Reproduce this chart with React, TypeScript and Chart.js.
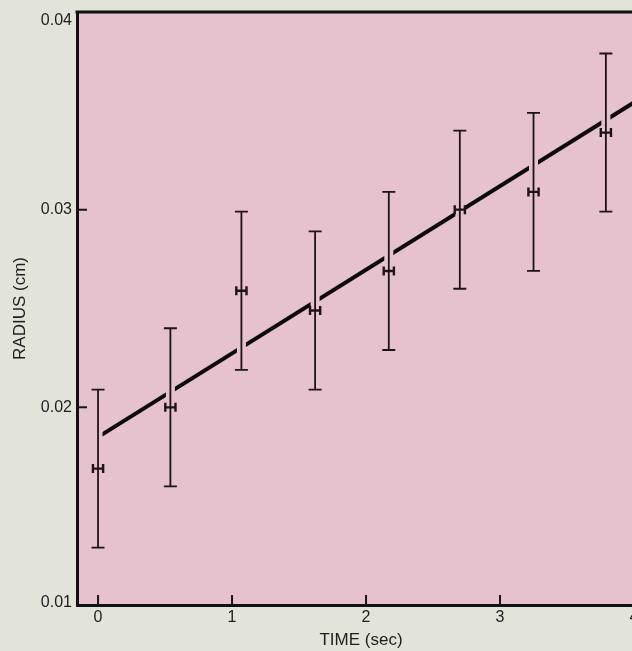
import React, { useEffect, useRef } from "react";
import { Chart, registerables } from "chart.js";

Chart.register(...registerables);

// ---- data ----
const times = [0.0, 0.54, 1.07, 1.62, 2.17, 2.7, 3.25, 3.79];
const radii = [0.0169, 0.02, 0.0259, 0.0249, 0.0269, 0.03, 0.0309, 0.0339];
const radiusErr = [0.004, 0.004, 0.004, 0.004, 0.004, 0.004, 0.004, 0.004];
const timeErr = [0.038, 0.038, 0.038, 0.038, 0.038, 0.038, 0.038, 0.038];
const fitTimes = [0.02, 4.08];
const fitRadii = [0.01858, 0.03576];
const xTicks = [0, 1, 2, 3, 4];
const yTicks = [0.01, 0.02, 0.03, 0.04];
const xTitle = "TIME (sec)";
const yTitle = "RADIUS (cm)";

const PINK = "#e6c1ce";
const PAGE = "#e2e4da";
const INK = "#1c1416";
const TEXT = "#1e1e1e";
const FONT = "'Liberation Sans', Arial, Helvetica, sans-serif";

const framePlugin = {
  id: "frame",
  beforeDraw(chart: any) {
    const { ctx, chartArea: a } = chart;
    ctx.save();
    ctx.fillStyle = PINK;
    ctx.fillRect(a.left, a.top, a.right - a.left, a.bottom - a.top);
    ctx.restore();
  },
  afterDraw(chart: any) {
    const { ctx, chartArea: a, scales } = chart;
    const ys = scales.y;
    ctx.save();
    ctx.fillStyle = TEXT;
    ctx.font = `16px ${FONT}`;
    ctx.textAlign = "right";
    ctx.textBaseline = "middle";
    for (const v of yTicks) {
      let py = ys.getPixelForValue(v);
      py = Math.max(a.top + 9, Math.min(a.bottom - 2, py));
      ctx.fillText(v.toFixed(2), a.left - 5, py);
    }
    ctx.restore();
  },
  afterDatasetsDraw(chart: any) {
    const { ctx, chartArea: a, scales } = chart;
    const xs = scales.x;
    const ys = scales.y;
    ctx.save();
    // error bars
    for (let i = 0; i < times.length; i++) {
      const px = xs.getPixelForValue(times[i]);
      const py = ys.getPixelForValue(radii[i]);
      const pTop = ys.getPixelForValue(radii[i] + radiusErr[i]);
      const pBot = ys.getPixelForValue(radii[i] - radiusErr[i]);
      const pL = xs.getPixelForValue(times[i] - timeErr[i]);
      const pR = xs.getPixelForValue(times[i] + timeErr[i]);
      // halo to break the fit line
      ctx.strokeStyle = PINK;
      ctx.lineWidth = 9;
      ctx.beginPath();
      ctx.moveTo(px, pTop + 4);
      ctx.lineTo(px, pBot - 4);
      ctx.stroke();
      ctx.strokeStyle = INK;
      ctx.lineWidth = 1.8;
      ctx.beginPath();
      ctx.moveTo(px, pTop);
      ctx.lineTo(px, pBot);
      ctx.moveTo(px - 6.5, pTop);
      ctx.lineTo(px + 6.5, pTop);
      ctx.moveTo(px - 6.5, pBot);
      ctx.lineTo(px + 6.5, pBot);
      ctx.stroke();
      ctx.lineWidth = 2.4;
      ctx.beginPath();
      ctx.moveTo(pL, py);
      ctx.lineTo(pR, py);
      ctx.moveTo(pL, py - 4.5);
      ctx.lineTo(pL, py + 4.5);
      ctx.moveTo(pR, py - 4.5);
      ctx.lineTo(pR, py + 4.5);
      ctx.stroke();
    }
    // inner ticks
    ctx.strokeStyle = INK;
    ctx.lineWidth = 2;
    ctx.beginPath();
    for (const v of xTicks) {
      const px = xs.getPixelForValue(v);
      if (px < a.left + 2 || px > a.right) continue;
      ctx.moveTo(px, a.bottom);
      ctx.lineTo(px, a.bottom - 10);
    }
    for (const v of yTicks) {
      const py = ys.getPixelForValue(v);
      if (py < a.top + 2 || py > a.bottom - 2) continue;
      ctx.moveTo(a.left, py);
      ctx.lineTo(a.left + 10, py);
    }
    ctx.stroke();
    // top border
    ctx.lineWidth = 3;
    ctx.strokeStyle = "#111";
    ctx.beginPath();
    ctx.moveTo(a.left - 1.5, a.top);
    ctx.lineTo(a.right, a.top);
    ctx.stroke();
    ctx.restore();
  },
};

export default function App() {
  const ref = useRef<HTMLCanvasElement | null>(null);

  useEffect(() => {
    if (!ref.current) return;
    document.body.style.background = PAGE;
    document.body.style.margin = "0";
    const chart = new Chart(ref.current, {
      type: "scatter",
      data: {
        datasets: [
          {
            type: "line",
            label: "fit",
            data: fitTimes.map((t, i) => ({ x: t, y: fitRadii[i] })),
            borderColor: "#0d0a0b",
            borderWidth: 4,
            pointRadius: 0,
            fill: false,
          },
          {
            label: "data",
            data: times.map((t, i) => ({ x: t, y: radii[i] })),
            pointRadius: 0,
            showLine: false,
          },
        ],
      },
      options: {
        responsive: false,
        animation: false,
        events: [],
        layout: { padding: { top: 12, right: 15, left: 0, bottom: 0 } },
        plugins: {
          legend: { display: false },
          tooltip: { enabled: false },
          title: { display: false },
        },
        scales: {
          x: {
            type: "linear",
            min: -0.157,
            max: 4.082,
            afterBuildTicks: (s: any) => {
              s.ticks = xTicks.map((v) => ({ value: v }));
            },
            afterFit: (s: any) => {
              s.height = 46;
            },
            grid: { display: false, drawTicks: false },
            border: { display: true, color: "#111", width: 3 },
            ticks: {
              padding: 3,
              color: TEXT,
              font: { family: FONT, size: 16 },
              maxRotation: 0,
              autoSkip: false,
              callback: (v: any) => String(v),
            },
            title: {
              display: true,
              text: xTitle,
              color: TEXT,
              font: { family: FONT, size: 17 },
              padding: { top: 0, bottom: 0 },
            },
          },
          y: {
            type: "linear",
            min: 0.01,
            max: 0.04,
            afterBuildTicks: (s: any) => {
              s.ticks = yTicks.map((v) => ({ value: v }));
            },
            afterFit: (s: any) => {
              s.width = 77;
            },
            grid: { display: false, drawTicks: false },
            border: { display: true, color: "#111", width: 3 },
            ticks: { display: false },
            title: {
              display: true,
              text: yTitle,
              color: TEXT,
              font: { family: FONT, size: 17 },
              padding: { top: 10, bottom: 0 },
            },
          },
        },
      },
      plugins: [framePlugin],
    } as any);
    return () => chart.destroy();
  }, []);

  return (
    <div
      style={{
        position: "absolute",
        left: 0,
        top: 0,
        width: 632,
        height: 651,
        overflow: "hidden",
        background: PAGE,
      }}
    >
      <canvas ref={ref} width={660} height={651} style={{ width: 660, height: 651, display: "block" }} />
    </div>
  );
}
